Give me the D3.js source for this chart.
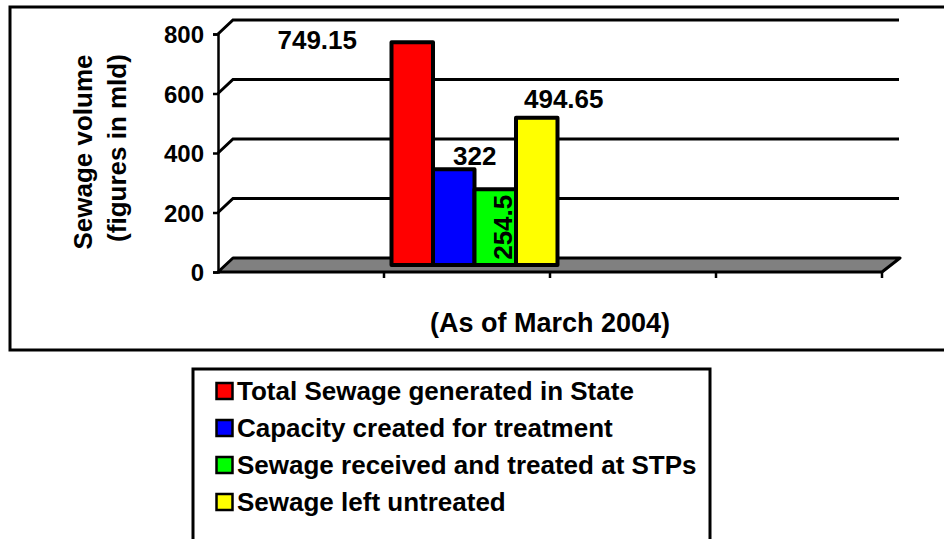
<!DOCTYPE html>
<html>
<head>
<meta charset="utf-8">
<script src="https://cdn.jsdelivr.net/npm/d3@7"></script>
<style>
  body { margin: 0; background: #fff; }
  svg text { font-family: "Liberation Sans", Arial, sans-serif; font-weight: bold; fill: #000; }
</style>
</head>
<body>
<svg width="944" height="539"></svg>
<script>
const width = 944;
const height = 539;

// data
const categories = ["", "March 2004", "", ""]; // only the second slot holds bars
const dataSlot = 1;
const series = [
  "Total Sewage generated in State",
  "Capacity created for treatment",
  "Sewage received and treated at STPs",
  "Sewage left untreated"
];
const values = [749.15, 322, 254.5, 494.65];
const valueLabels = ["749.15", "322", "254.5", "494.65"];
const colors = ["#ff0000", "#0000ff", "#00ff00", "#ffff00"];
const yTicks = [0, 200, 400, 600, 800];

// where Excel dropped each value label, relative to the bar top centre
const labelOffsets = [
  { dx: -95, dy: 7, rotate: false },
  { dx: 21, dy: -4, rotate: false },
  { dx: 7, dy: 38, rotate: true },
  { dx: 27, dy: -10, rotate: false }
];

const depthX = 15, depthY = -14;

const svg = d3.select("svg").attr("viewBox", [0, 0, width, height]);

const x = d3.scaleBand().domain(d3.range(categories.length)).range([218, 882]);
const xs = d3.scaleBand().domain(d3.range(series.length)).range([0, x.bandwidth()]);
const y = d3.scaleLinear().domain([0, 800]).range([272, 34]);

function label(g, px, py, str, size, anchor, rot) {
  return g.append("text")
    .attr("transform", `translate(${px},${py}) rotate(${rot || 0})`)
    .attr("text-anchor", anchor || "middle")
    .style("font-size", size + "px")
    .text(str);
}

// outer chart frame
svg.append("rect")
  .attr("x", 10).attr("y", 7)
  .attr("width", 960).attr("height", 343)
  .attr("fill", "none").attr("stroke", "#000").attr("stroke-width", 3);

const plot = svg.append("g");

// gridlines on back wall and left side wall
yTicks.filter(v => v > 0).forEach(v => {
  const p = d3.path();
  p.moveTo(x.range()[0], y(v));
  p.lineTo(x.range()[0] + depthX, y(v) + depthY);
  p.lineTo(x.range()[1] + depthX + 2, y(v) + depthY);
  plot.append("path").attr("d", p.toString())
    .attr("fill", "none").attr("stroke", "#000").attr("stroke-width", 3);
});

// floor
const x0 = x.range()[0], x1 = x.range()[1];
const floor = d3.path();
floor.moveTo(x0, y(0));
floor.lineTo(x1, y(0));
floor.lineTo(x1 + depthX + 3, y(0) + depthY);
floor.lineTo(x0 + depthX, y(0) + depthY);
floor.closePath();
plot.append("path").attr("d", floor.toString())
  .attr("fill", "#808080").attr("stroke", "#000").attr("stroke-width", 3)
  .attr("stroke-linejoin", "round");

// category ticks along the front edge of the floor
plot.selectAll("line.ctick")
  .data(d3.range(1, categories.length + 1))
  .enter().append("line")
  .attr("class", "ctick")
  .attr("x1", i => x0 + i * x.bandwidth()).attr("x2", i => x0 + i * x.bandwidth())
  .attr("y1", y(0)).attr("y2", y(0) + 6)
  .attr("stroke", "#000").attr("stroke-width", 2.5);

// y axis
const yAxis = plot.append("g")
  .attr("transform", `translate(${x0},0)`)
  .call(d3.axisLeft(y).tickValues(yTicks).tickSize(5).tickPadding(0));
yAxis.select(".domain").attr("stroke", "#000").attr("stroke-width", 2.5);
yAxis.selectAll(".tick line").attr("stroke", "#000").attr("stroke-width", 2.5);
yAxis.selectAll(".tick text")
  .attr("x", -14).attr("dy", "0.36em")
  .attr("fill", "#000")
  .style("font-size", "24px")
  .style("font-family", '"Liberation Sans", Arial, sans-serif')
  .style("font-weight", "bold");

// bars, set at mid depth
const midX = depthX / 2, midY = depthY / 2;
const slotX = x(dataSlot) + midX;
plot.selectAll("rect.bar")
  .data(values)
  .enter().append("rect")
  .attr("class", "bar")
  .attr("x", (d, i) => slotX + xs(i))
  .attr("y", d => y(d) + midY)
  .attr("width", xs.bandwidth())
  .attr("height", d => y(0) - y(d))
  .attr("fill", (d, i) => colors[i])
  .attr("stroke", "#000").attr("stroke-width", 4)
  .attr("stroke-linejoin", "round");

// value labels
values.forEach((v, i) => {
  const o = labelOffsets[i];
  const cx = slotX + xs(i) + xs.bandwidth() / 2 + o.dx;
  const cy = y(v) + midY + o.dy;
  if (o.rotate) {
    label(plot, cx, cy, valueLabels[i], 26, "middle", -90).attr("dy", "0.36em");
  } else {
    label(plot, cx, cy, valueLabels[i], 26, "middle");
  }
});

// axis titles
label(svg, 550, 332, "(As of March 2004)", 27, "middle");
label(svg, 92, 152, "Sewage volume", 26, "middle", -90);
label(svg, 126, 148, "(figures in mld)", 26, "middle", -90);

// legend
const legend = svg.append("g");
legend.append("rect")
  .attr("x", 193).attr("y", 369)
  .attr("width", 517).attr("height", 200)
  .attr("fill", "none").attr("stroke", "#000").attr("stroke-width", 3);

const row = d3.scaleLinear().domain([0, 1]).range([383, 420]);
series.forEach((s, i) => {
  legend.append("rect")
    .attr("x", 216.5).attr("y", row(i))
    .attr("width", 16).attr("height", 16)
    .attr("fill", colors[i]).attr("stroke", "#000").attr("stroke-width", 2.5);
  label(legend, 237, row(i) + 17, s, 26, "start");
});
</script>
</body>
</html>
